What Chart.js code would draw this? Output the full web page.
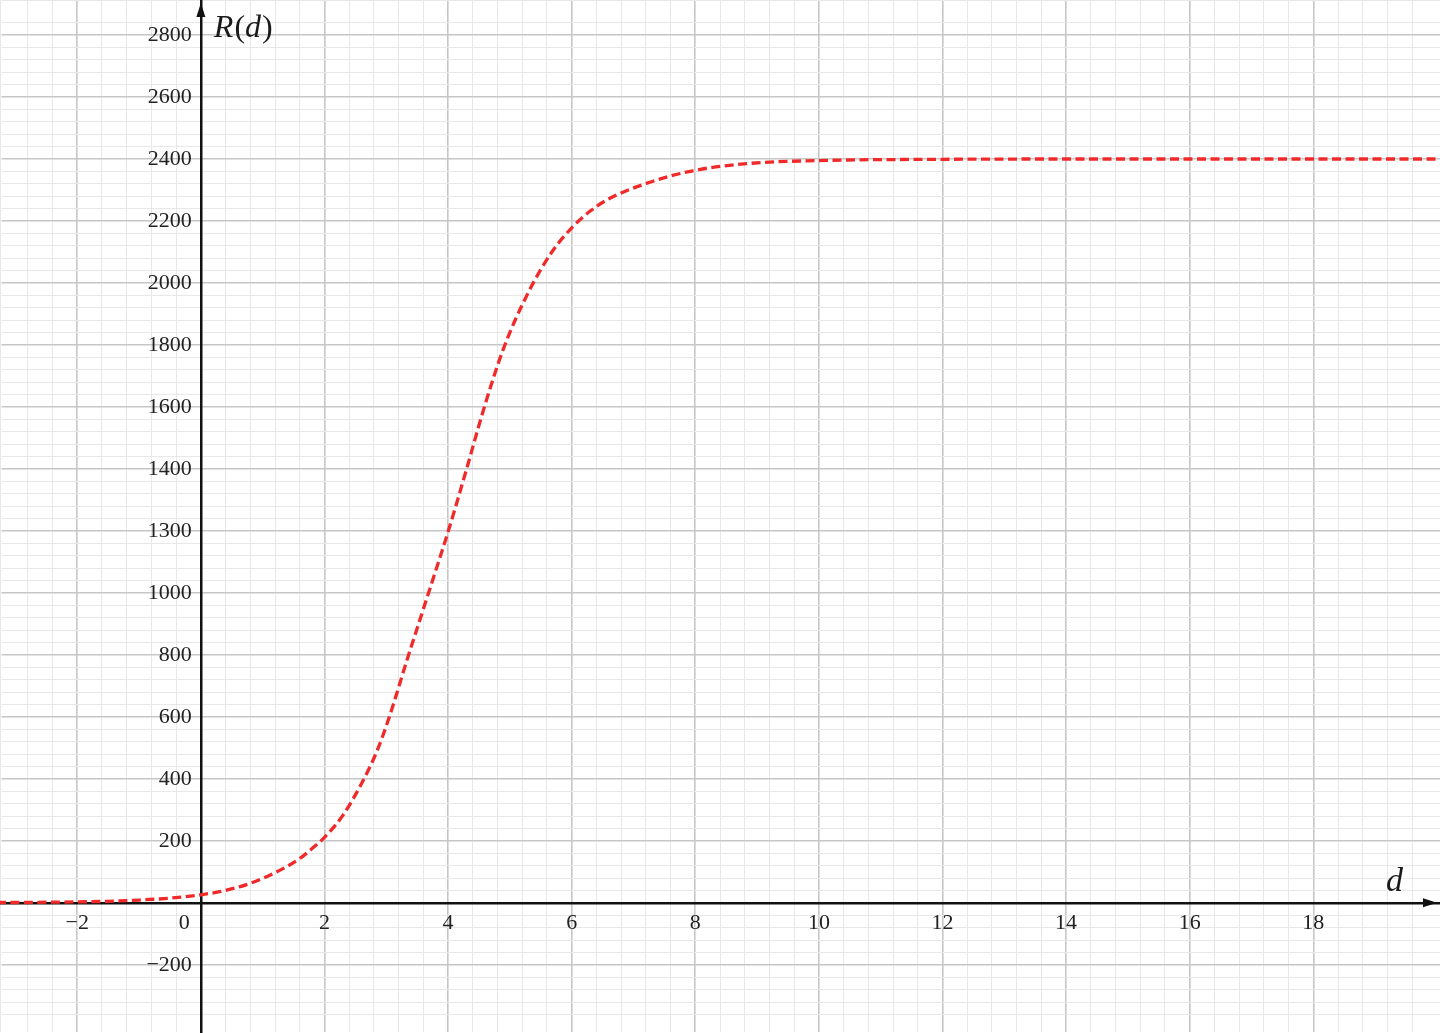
<!DOCTYPE html>
<html>
<head>
<meta charset="utf-8">
<script src="https://cdn.jsdelivr.net/npm/chart.js"></script>
<style>
  html, body { margin: 0; padding: 0; background: #fff; }
  #wrap { width: 1440px; height: 1033px; }
</style>
</head>
<body>
<div id="wrap"><canvas id="chart"></canvas></div>
<script>
// ----- data -----
const dValues = [-3.3, -3, -2.5, -2, -1.5, -1, -0.5, 0, 0.4, 0.8, 1.2, 1.6, 1.8, 2, 2.3, 2.6, 2.85, 3.05, 3.33, 3.66,
                 4.02, 4.3, 4.58, 4.9, 5.3, 5.68, 6.02, 6.3, 6.57, 7.22, 7.96, 8.83, 10, 12, 14, 16, 18, 20.1];
const rValues = [1, 1, 2, 3, 5, 9, 15, 26, 40, 63, 97, 143, 175, 211, 283, 385, 490, 600, 780, 985,
                 1210, 1400, 1595, 1790, 1970, 2100, 2182, 2232, 2268, 2322, 2362, 2385, 2395, 2399, 2400, 2400, 2400, 2400];

// tick labels (the original prints "1300" at the 1200 line)
const xTickValues = [-2, 0, 2, 4, 6, 8, 10, 12, 14, 16, 18];
const xTickLabels = ["\u22122", "0", "2", "4", "6", "8", "10", "12", "14", "16", "18"];
const yTickValues = [-200, 200, 400, 600, 800, 1000, 1200, 1400, 1600, 1800, 2000, 2200, 2400, 2600, 2800];
const yTickLabels = ["\u2212200", "200", "400", "600", "800", "1000", "1300", "1400", "1600", "1800", "2000", "2200", "2400", "2600", "2800"];

const xMin = -3.25, xMax = 20.05;
const yMin = -420, yMax = 2913;

function findLabel(values, labels, v) {
    for (let i = 0; i < values.length; i++) {
        if (Math.abs(values[i] - v) < 1e-6) return labels[i];
    }
    return "";
}

function isMajor(v, step) {
    const q = v / step;
    return Math.abs(q - Math.round(q)) < 1e-6;
}

// scales take no room, the axes sit on x = 0 / y = 0
function noRoom(scale) {
    if (scale.isHorizontal()) scale.height = 0; else scale.width = 0;
    scale.paddingLeft = scale.paddingRight = scale.paddingTop = scale.paddingBottom = 0;
}

const crossAxes = {
    id: "crossAxes",
    afterLayout(chart) {
        const sx = chart.scales.x, sy = chart.scales.y;
        const x0 = sx.getPixelForValue(0);
        const y0 = sy.getPixelForValue(0);
        // box wide enough so the labels are not clipped
        sy.right = x0;
        sy.left = x0 - 120;
        sx.top = y0;
        sx.bottom = y0 + 50;
    }
};

// arrows and axis names
const axisDecor = {
    id: "axisDecor",
    afterDraw(chart) {
        const ctx = chart.ctx;
        const x0 = chart.scales.x.getPixelForValue(0);
        const y0 = chart.scales.y.getPixelForValue(0);
        const area = chart.chartArea;
        ctx.save();
        ctx.fillStyle = "#111";
        // y arrow
        ctx.beginPath();
        ctx.moveTo(x0, area.top + 3);
        ctx.lineTo(x0 - 4.5, area.top + 17);
        ctx.lineTo(x0 + 4.5, area.top + 17);
        ctx.closePath();
        ctx.fill();
        // x arrow
        ctx.beginPath();
        ctx.moveTo(area.right - 3, y0);
        ctx.lineTo(area.right - 17, y0 - 4.5);
        ctx.lineTo(area.right - 17, y0 + 4.5);
        ctx.closePath();
        ctx.fill();

        // R(d): letters italic, brackets upright
        ctx.fillStyle = "#1a1a1a";
        ctx.textBaseline = "alphabetic";
        ctx.textAlign = "left";
        const parts = [["R", true], ["(", false], ["d", true], [")", false]];
        let tx = x0 + 13;
        parts.forEach(([t, it]) => {
            ctx.font = (it ? "italic " : "") + "32px 'Liberation Serif', serif";
            ctx.fillText(t, tx, 37);
            tx += ctx.measureText(t).width + (it ? 1 : 0);
        });
        ctx.font = "italic 34px 'Liberation Serif', serif";
        ctx.fillText("d", area.right - 54, y0 - 12);
        ctx.restore();
    }
};

new Chart(document.getElementById("chart"), {
    type: "line",
    data: {
        datasets: [{
            data: dValues.map((d, i) => ({ x: d, y: rValues[i] })),
            borderColor: "#f02a2a",
            borderWidth: 3.3,
            borderDash: [9, 4.5],
            pointRadius: 0,
            fill: false,
            cubicInterpolationMode: "monotone"
        }]
    },
    options: {
        responsive: true,
        maintainAspectRatio: false,
        animation: false,
        layout: { padding: 0 },
        plugins: {
            legend: { display: false },
            tooltip: { enabled: false }
        },
        scales: {
            x: {
                type: "linear",
                min: xMin,
                max: xMax,
                position: "bottom",
                afterFit: noRoom,
                border: { display: true, color: "#111", width: 2.5 },
                grid: {
                    drawTicks: false,
                    color: (c) => isMajor(c.tick.value, 2) ? "#c6c6c6" : "#e8e8e8",
                    lineWidth: (c) => isMajor(c.tick.value, 2) ? 1.6 : 1
                },
                ticks: {
                    stepSize: 0.4,
                    maxTicksLimit: 200,
                    autoSkip: false,
                    maxRotation: 0,
                    padding: 7,
                    color: "#222",
                    font: { family: "'Liberation Serif', serif", size: 22 },
                    callback: (v) => {
                        const s = findLabel(xTickValues, xTickLabels, v);
                        return s === "0" ? "0\u2003\u2002" : s;
                    }
                }
            },
            y: {
                type: "linear",
                min: yMin,
                max: yMax,
                position: "left",
                afterFit: noRoom,
                border: { display: true, color: "#111", width: 2.5 },
                grid: {
                    drawTicks: false,
                    color: (c) => isMajor(c.tick.value, 200) ? "#c6c6c6" : "#e8e8e8",
                    lineWidth: (c) => isMajor(c.tick.value, 200) ? 1.6 : 1
                },
                ticks: {
                    stepSize: 40,
                    maxTicksLimit: 200,
                    autoSkip: false,
                    padding: 9,
                    color: "#222",
                    font: { family: "'Liberation Serif', serif", size: 22 },
                    callback: (v) => findLabel(yTickValues, yTickLabels, v)
                }
            }
        }
    },
    plugins: [crossAxes, axisDecor]
});
</script>
</body>
</html>
